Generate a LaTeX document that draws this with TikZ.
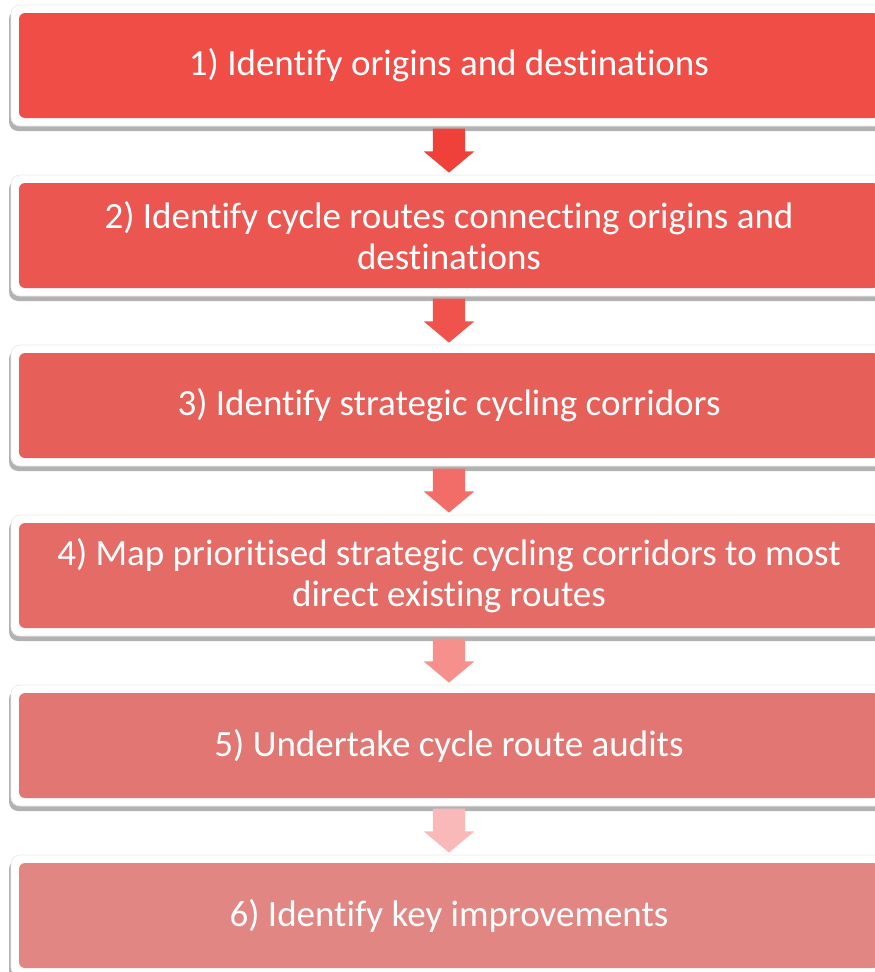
\documentclass[tikz,border=0pt]{standalone}
\usepackage{fontspec}
\setmainfont{Carlito}[Ligatures=NoCommon]
\usetikzlibrary{shapes.arrows,shadows,positioning}

\definecolor{boxcol1}{RGB}{240,77,71}
\definecolor{boxcol2}{RGB}{235,86,80}
\definecolor{boxcol3}{RGB}{230,95,89}
\definecolor{boxcol4}{RGB}{228,107,102}
\definecolor{boxcol5}{RGB}{225,118,114}
\definecolor{boxcol6}{RGB}{225,134,131}
\definecolor{arrcol1}{RGB}{239,65,58}
\definecolor{arrcol2}{RGB}{240,82,76}
\definecolor{arrcol3}{RGB}{242,109,104}
\definecolor{arrcol4}{RGB}{245,144,140}
\definecolor{arrcol5}{RGB}{248,185,184}

\tikzset{
  frame/.style={fill=white, draw=black!8, line width=0.8pt, rounded corners=9pt,
    minimum width=876pt, minimum height=121pt, inner sep=0pt,
    drop shadow={shadow xshift=-2pt, shadow yshift=-5pt, fill=black!30, opacity=1}},
  stepbox/.style={rounded corners=6pt, minimum width=860pt, minimum height=105pt,
    inner sep=0pt, text=white, align=center,
    font=\fontsize{37}{41}\selectfont},
  flowarrow/.style={single arrow, shape border rotate=270, inner xsep=16pt, inner ysep=0pt,
    minimum height=44pt, single arrow head extend=9pt, single arrow tip angle=100,
    single arrow head indent=0pt}
}

\begin{document}
\begin{tikzpicture}[x=1pt,y=-1pt]
  \def \pitch {170}
  \useasboundingbox (0,0) rectangle (875,972);

  % the six steps
  \foreach \s/\txt in {1/{1) Identify origins and destinations},
      2/{2) Identify cycle routes connecting origins and\\destinations},
      3/{3) Identify strategic cycling corridors},
      4/{4) Map prioritised strategic cycling corridors to most\\direct existing routes},
      5/{5) Undertake cycle route audits},
      6/{6) Identify key improvements}}
  {
    \node[frame] (f\s) at (449, {65.5+\pitch*(\s-1)}) {};
    \node[stepbox, fill=boxcol\s] (b\s) at (f\s) {\txt};
  }

  % arrows between steps
  \foreach \s in {1,...,5}
  {
    \node[flowarrow, fill=arrcol\s, below=2pt of f\s] (a\s) {};
  }
\end{tikzpicture}
\end{document}
